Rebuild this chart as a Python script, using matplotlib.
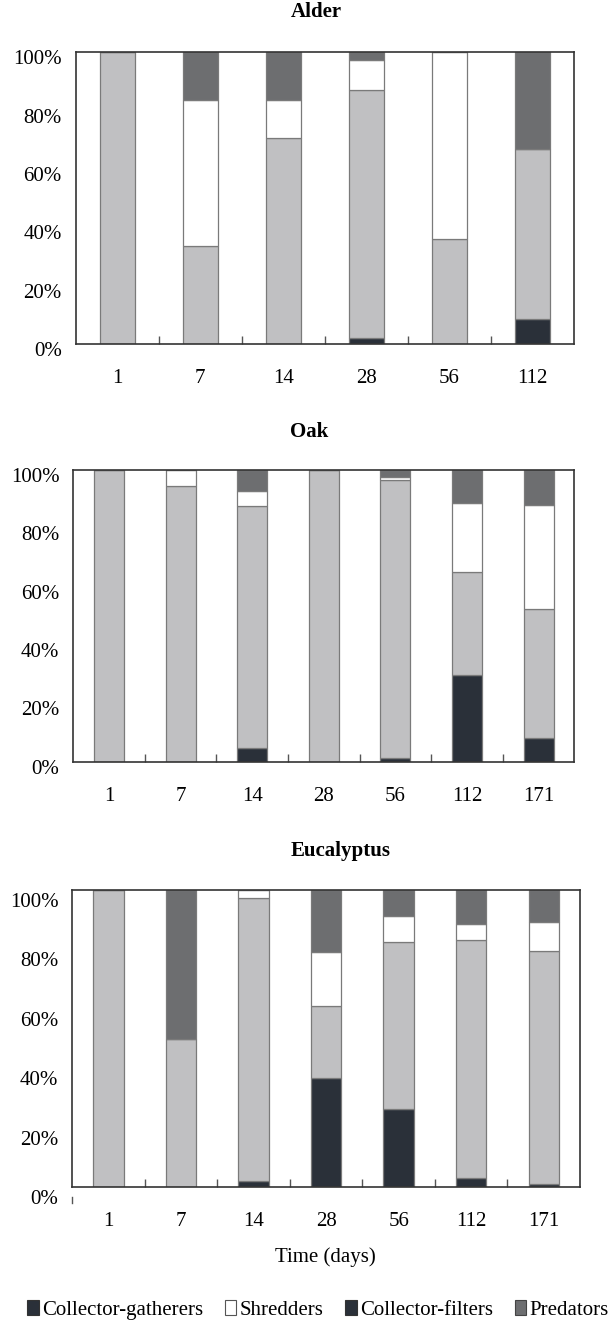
import matplotlib
matplotlib.use("Agg")
import matplotlib.pyplot as plt
from matplotlib.patches import Patch
from matplotlib.transforms import ScaledTranslation
import numpy as np

plt.rcParams['font.family'] = ['Liberation Serif', 'DejaVu Serif']

# ---------------- data (percent) ----------------
alder_days = ["1", "7", "14", "28", "56", "112"]
alder_filters = [0, 0, 0, 2, 0, 8.5]
alder_gatherers = [100, 33.5, 70.7, 85.0, 36.0, 58.5]
alder_shredders = [0, 50.0, 12.8, 10.5, 64.0, 0]
alder_predators = [0, 16.5, 16.5, 2.5, 0, 33.0]

oak_days = ["1", "7", "14", "28", "56", "112", "171"]
oak_filters = [0, 0, 4.8, 0, 1.1, 29.6, 8.1]
oak_gatherers = [100, 94.5, 83.0, 100, 95.6, 35.4, 44.1]
oak_shredders = [0, 5.5, 5.1, 0, 0.8, 23.6, 35.7]
oak_predators = [0, 0, 7.1, 0, 2.5, 11.4, 12.1]

euc_days = ["1", "7", "14", "28", "56", "112", "171"]
euc_filters = [0, 0, 1.9, 36.7, 26.4, 2.9, 1.0]
euc_gatherers = [100, 49.8, 95.3, 24.1, 56.1, 80.4, 78.4]
euc_shredders = [0, 0, 2.8, 18.2, 8.9, 5.4, 9.7]
euc_predators = [0, 50.2, 0, 21.0, 8.6, 11.3, 10.9]

legend_labels = ["Collector-gatherers", "Shredders", "Collector-filters", "Predators"]

# ---------------- style ----------------
C_FILT = "#2a3039"
C_GATH = "#c0c0c2"
C_SHRED = "#ffffff"
C_PRED = "#6d6e70"
EDGE = "#7a7a7a"

W, H = 615, 1327
fig = plt.figure(figsize=(W / 100, H / 100), dpi=100)

def fx(px):
    return px / W

def fy(py):
    return 1 - py / H

panels = [
    ("Alder", alder_days, alder_filters, alder_gatherers, alder_shredders, alder_predators,
     (75.7, 574.0, 52.3, 344.0), (316, 12), 5),
    ("Oak", oak_days, oak_filters, oak_gatherers, oak_shredders, oak_predators,
     (73.2, 574.4, 470.0, 761.7), (309, 432), 5),
    ("Eucalyptus", euc_days, euc_filters, euc_gatherers, euc_shredders, euc_predators,
     (72.3, 580.0, 890.0, 1187.0), (341, 851), 10),
]

axes = []
for title, days, filt, gath, shred, pred, (l, r, t, b), (tx, ty), yoff in panels:
    ax = fig.add_axes([fx(l), fy(b), (r - l) / W, (b - t) / H])
    axes.append(ax)
    n = len(days)
    x = np.arange(n)
    bw = 0.42
    bottom = np.zeros(n)
    for vals, col in [(filt, C_FILT), (gath, C_GATH), (shred, C_SHRED), (pred, C_PRED)]:
        v = np.array(vals, dtype=float)
        ax.bar(x, v, bw, bottom=bottom, color=col, edgecolor=EDGE, linewidth=0.9, zorder=2)
        bottom += v
    ax.set_xlim(-0.5, n - 0.5)
    ax.set_ylim(0, 100)
    ax.set_xticks(x)
    ax.set_xticklabels(days)
    ax.set_xticks(np.arange(0.5, n - 1, 1.0), minor=True)
    ax.set_yticks(np.arange(0, 101, 20))
    ax.set_yticklabels([f"{v}%" for v in range(0, 101, 20)])
    ax.tick_params(axis='x', which='major', length=0, pad=18, labelsize=15)
    ax.tick_params(axis='x', which='minor', direction='in', length=6, width=1, color="#555555")
    ax.tick_params(axis='y', length=0, pad=10, labelsize=15)
    off = ScaledTranslation(0, -yoff / 100, fig.dpi_scale_trans)
    for lab in ax.get_yticklabels():
        lab.set_transform(lab.get_transform() + off)
    for sp in ax.spines.values():
        sp.set_color("#333333")
        sp.set_linewidth(1.2)
    fig.text(fx(tx), fy(ty), title, ha='center', va='center', fontsize=15, fontweight='bold')

# small stray tick under the Eucalyptus axis
axes[2].plot([0, 0], [-0.035, -0.055], transform=axes[2].transAxes, color="#555555",
             lw=1, clip_on=False)

fig.text(fx(325), fy(1257), "Time (days)", ha='center', va='center', fontsize=15)

handles = [
    Patch(facecolor=C_FILT, edgecolor="#333333", linewidth=0.8),
    Patch(facecolor="#ffffff", edgecolor="#555555", linewidth=0.8),
    Patch(facecolor=C_FILT, edgecolor="#333333", linewidth=0.8),
    Patch(facecolor=C_PRED, edgecolor="#444444", linewidth=0.8),
]
fig.legend(handles, legend_labels, loc='center', bbox_to_anchor=(fx(318), fy(1310)),
           ncol=4, frameon=False, fontsize=15, handlelength=0.55, handleheight=0.7,
           handletextpad=0.15, columnspacing=1.05, borderaxespad=0)

fig.savefig("out.png", dpi=100)
